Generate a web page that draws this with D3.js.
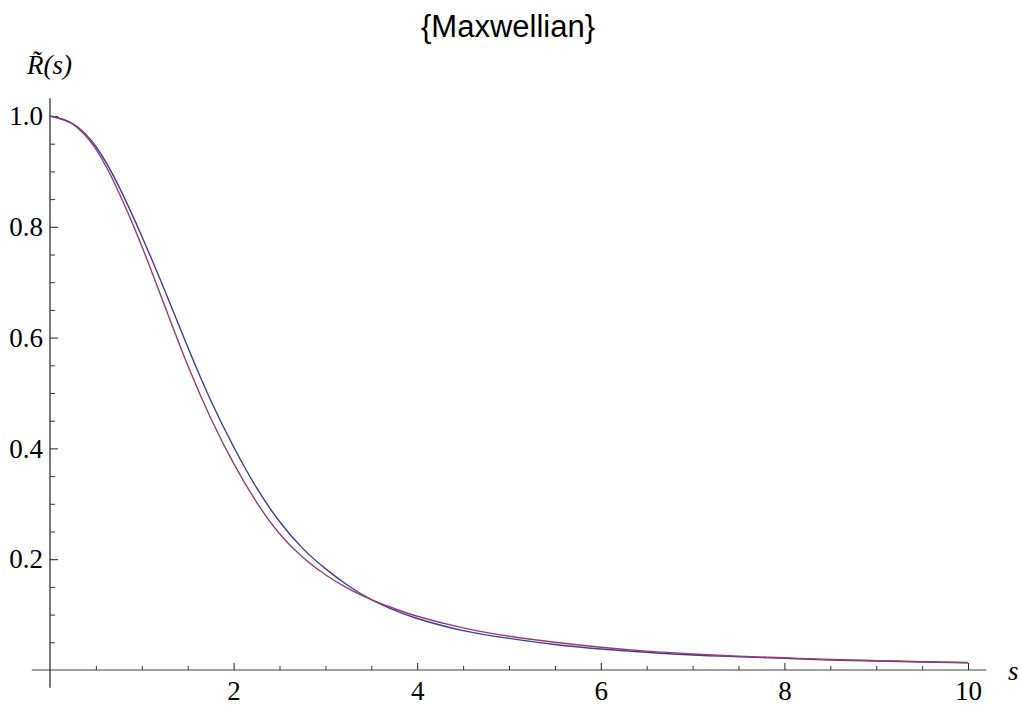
<!DOCTYPE html>
<html lang="en">
<head>
<meta charset="UTF-8">
<title>{Maxwellian}</title>
<script src="https://d3js.org/d3.v7.min.js"></script>
<style>
  body { margin: 0; background: #fff; }
</style>
</head>
<body>
<div id="chart"></div>
<script>
// values
const sValues = [0, 0.25, 0.5, 0.75, 1, 1.25, 1.5, 1.75, 2, 2.25, 2.5, 2.75, 3, 3.25, 3.5, 3.75, 4,
                 4.5, 5, 5.5, 6, 6.5, 7, 7.5, 8, 8.5, 9, 9.5, 10];
const blueR = [1.000, 0.986, 0.945, 0.873, 0.783, 0.685, 0.583, 0.487, 0.403, 0.329, 0.268, 0.220, 0.183,
               0.152, 0.127, 0.108, 0.093, 0.071, 0.057, 0.046, 0.038, 0.032, 0.027, 0.024, 0.021,
               0.018, 0.016, 0.0145, 0.013];
const purpleR = [1.000, 0.985, 0.940, 0.862, 0.765, 0.657, 0.550, 0.455, 0.373, 0.303, 0.246, 0.204, 0.172,
                 0.147, 0.127, 0.111, 0.097, 0.076, 0.061, 0.050, 0.041, 0.034, 0.029, 0.025, 0.022,
                 0.019, 0.017, 0.015, 0.0135];
const xMajor = [2, 4, 6, 8, 10];
const yMajor = [0.2, 0.4, 0.6, 0.8, 1.0];

const W = 1021, H = 713;
const serif = "'Liberation Serif', 'Times New Roman', serif";

const x = d3.scaleLinear().domain([0, 10]).range([50, 968]);
const y = d3.scaleLinear().domain([0, 1]).range([670, 116]);

const svg = d3.select("#chart").append("svg")
    .attr("width", W)
    .attr("height", H);

// axis lines
svg.append("line")
    .attr("x1", x(-0.2)).attr("x2", x(10.2))
    .attr("y1", y(0)).attr("y2", y(0))
    .attr("stroke", "#444").attr("stroke-width", 1.2);
svg.append("line")
    .attr("x1", x(0)).attr("x2", x(0))
    .attr("y1", y(1.032)).attr("y2", y(-0.032))
    .attr("stroke", "#222").attr("stroke-width", 1.2);

// x axis: minor + major ticks pointing up
svg.append("g")
    .attr("transform", `translate(0,${y(0)})`)
    .call(d3.axisBottom(x).tickValues(d3.range(0.5, 10, 0.5).filter(v => v % 2 !== 0)).tickSize(-4).tickFormat(""))
    .call(g => g.select(".domain").remove())
    .call(g => g.selectAll("line").attr("stroke", "#333"));
svg.append("g")
    .attr("transform", `translate(0,${y(0)})`)
    .call(d3.axisBottom(x).tickValues(xMajor).tickSize(-7).tickPadding(11).tickFormat(d3.format("d")))
    .call(g => g.select(".domain").remove())
    .call(g => g.selectAll("line").attr("stroke", "#222"))
    .call(g => g.selectAll("text").style("font-family", serif).style("font-size", "27px").attr("fill", "#000"));

// y axis: ticks pointing right
svg.append("g")
    .attr("transform", `translate(${x(0)},0)`)
    .call(d3.axisLeft(y).tickValues(d3.range(0.05, 1, 0.05).filter(v => Math.abs(v * 5 - Math.round(v * 5)) > 1e-6)).tickSize(-5).tickFormat(""))
    .call(g => g.select(".domain").remove())
    .call(g => g.selectAll("line").attr("stroke", "#333"));
svg.append("g")
    .attr("transform", `translate(${x(0)},0)`)
    .call(d3.axisLeft(y).tickValues(yMajor).tickSize(-8).tickPadding(7).tickFormat(d3.format(".1f")))
    .call(g => g.select(".domain").remove())
    .call(g => g.selectAll("line").attr("stroke", "#222"))
    .call(g => g.selectAll("text").style("font-family", serif).style("font-size", "27px").attr("fill", "#000"));

// curves
const line = d3.line()
    .x(d => x(d[0]))
    .y(d => y(d[1]))
    .curve(d3.curveNatural);

svg.append("path")
    .datum(sValues.map((s, i) => [s, blueR[i]]))
    .attr("fill", "none")
    .attr("stroke", "#3d3d99")
    .attr("stroke-width", 1.4)
    .attr("d", line);

svg.append("path")
    .datum(sValues.map((s, i) => [s, purpleR[i]]))
    .attr("fill", "none")
    .attr("stroke", "#993d71")
    .attr("stroke-width", 1.4)
    .attr("d", line);

// title and axis labels
svg.append("text")
    .attr("x", 508).attr("y", 37)
    .attr("text-anchor", "middle")
    .style("font-family", "'Liberation Sans', Arial, sans-serif")
    .style("font-size", "31px")
    .text("{Maxwellian}");

svg.append("text")
    .attr("x", 27).attr("y", 74)
    .style("font-family", serif)
    .style("font-size", "27px")
    .style("font-style", "italic")
    .text("R\u0303(s)");

svg.append("text")
    .attr("x", 1008).attr("y", 680)
    .style("font-family", serif)
    .style("font-size", "27px")
    .style("font-style", "italic")
    .text("s");
</script>
</body>
</html>
